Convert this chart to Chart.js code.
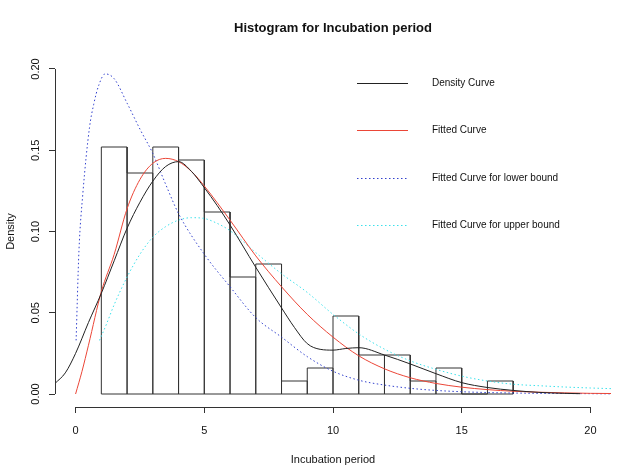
<!DOCTYPE html>
<html>
<head>
<meta charset="utf-8">
<title>Histogram for Incubation period</title>
<script src="https://cdn.jsdelivr.net/npm/chart.js@4"></script>
<style>
  body { margin: 0; background: #fff; }
  #wrap { width: 640px; height: 476px; }
</style>
</head>
<body>
<div id="wrap"><canvas id="myChart"></canvas></div>
<script>
// histogram bins (width 1) and their densities
const binStart = [1, 2, 3, 4, 5, 6, 7, 8, 9, 10, 11, 12, 13, 14, 15, 16];
const binDensity = [0.152, 0.136, 0.152, 0.144, 0.112, 0.072, 0.080, 0.008,
                    0.016, 0.048, 0.024, 0.024, 0.008, 0.016, 0, 0.008];

// kernel density curve
const densityX = [-0.8, -0.4, 0, 0.5, 1, 1.5, 2, 2.5, 3, 3.5, 4, 4.5, 5, 5.5, 6, 7, 8, 8.5, 9, 9.5, 10, 10.5, 11, 12, 13, 14, 15, 16, 17, 18, 19, 19.6];
const densityY = [0.0065, 0.013, 0.025, 0.044, 0.062, 0.082, 0.102, 0.118, 0.131, 0.140, 0.143, 0.137, 0.127, 0.116, 0.104, 0.078, 0.053, 0.041, 0.031, 0.0275, 0.027, 0.028, 0.0285, 0.024, 0.0185, 0.0125, 0.007, 0.004, 0.0022, 0.001, 0.0004, 0.0002];

// fitted curve
const fittedX = [0, 0.25, 0.5, 1, 1.5, 2, 2.5, 3, 3.5, 4, 4.5, 5, 6, 7, 8, 9, 10, 11, 12, 13, 14, 15, 16, 17, 18, 19, 20, 20.8];
const fittedY = [0, 0.014, 0.030, 0.063, 0.086, 0.114, 0.132, 0.142, 0.145, 0.143, 0.137, 0.128, 0.107, 0.085, 0.066, 0.049, 0.035, 0.0235, 0.0155, 0.010, 0.0065, 0.0042, 0.0027, 0.0017, 0.0011, 0.0007, 0.0004, 0.0003];

// fitted curve for lower bound
const lowerX = [0.02, 0.13, 0.28, 0.54, 0.7, 0.9, 1.15, 1.5, 2, 2.5, 3, 3.5, 4, 5, 6, 7, 8, 9, 10, 11, 12, 13, 14, 15, 16, 17, 18, 19, 20, 20.8];
const lowerY = [0.033, 0.088, 0.123, 0.164, 0.178, 0.190, 0.197, 0.194, 0.179, 0.163, 0.148, 0.129, 0.111, 0.086, 0.066, 0.047, 0.035, 0.023, 0.014, 0.0085, 0.0055, 0.0035, 0.0022, 0.0014, 0.0009, 0.0006, 0.0004, 0.0003, 0.0002, 0.0001];

// fitted curve for upper bound
const upperX = [0.93, 1.2, 1.5, 2, 2.5, 3, 3.5, 4, 4.5, 5, 5.5, 6, 7, 8, 9, 10, 11, 12, 13, 14, 15, 16, 17, 18, 19, 20, 20.8];
const upperY = [0.033, 0.043, 0.055, 0.072, 0.086, 0.0965, 0.103, 0.107, 0.1085, 0.108, 0.105, 0.1005, 0.087, 0.074, 0.0625, 0.049, 0.037, 0.0276, 0.0204, 0.0152, 0.011, 0.008, 0.006, 0.0051, 0.0043, 0.0037, 0.0033];

const curveNames = ['Density Curve', 'Fitted Curve', 'Fitted Curve for lower bound', 'Fitted Curve for upper bound'];
const xTicks = [0, 5, 10, 15, 20];
const yTicks = [0, 0.05, 0.10, 0.15, 0.20];

const FONT = '"Liberation Sans", Arial, Helvetica, sans-serif';
Chart.defaults.font.family = FONT;
Chart.defaults.color = '#111';

function pts(xs, ys) {
    return xs.map((x, i) => ({ x: x, y: ys[i] }));
}

// outline of the histogram rectangles, plus the baseline
var histOutline = [];
for (var i = 0; i < binStart.length; i++) {
    var lo = binStart[i], hi = binStart[i] + 1, h = binDensity[i];
    histOutline.push({ x: lo, y: 0 }, { x: lo, y: h }, { x: hi, y: h }, { x: hi, y: 0 });
}
histOutline.push({ x: binStart[0], y: 0 });

// R style axis lines: only from first to last tick
const rAxes = {
    id: 'rAxes',
    afterDraw(chart) {
        const { ctx, chartArea: a, scales: { x, y } } = chart;
        ctx.save();
        ctx.strokeStyle = '#333';
        ctx.lineWidth = 1;
        ctx.beginPath();
        var yb = Math.round(a.bottom - 0.5) + 0.5;
        ctx.moveTo(x.getPixelForValue(xTicks[0]), yb);
        ctx.lineTo(x.getPixelForValue(xTicks[xTicks.length - 1]), yb);
        var xl = Math.round(a.left - 0.5) + 0.5;
        ctx.moveTo(xl, y.getPixelForValue(yTicks[0]));
        ctx.lineTo(xl, y.getPixelForValue(yTicks[yTicks.length - 1]));
        ctx.stroke();
        ctx.restore();
    }
};

// legend drawn inside the plot, top right
const rLegend = {
    id: 'rLegend',
    afterDraw(chart) {
        const { ctx, chartArea: a } = chart;
        const rows = [27, 74, 122, 169];
        ctx.save();
        ctx.font = '10px ' + FONT;
        ctx.textBaseline = 'middle';
        ctx.textAlign = 'left';
        for (var k = 0; k < curveNames.length; k++) {
            var ds = chart.data.datasets[k];
            var yy = a.top + rows[k] + 0.5;
            ctx.strokeStyle = ds.borderColor;
            ctx.lineWidth = 1;
            ctx.setLineDash(ds.borderDash || []);
            ctx.beginPath();
            ctx.moveTo(a.left + 302, yy);
            ctx.lineTo(a.left + 353, yy);
            ctx.stroke();
            ctx.setLineDash([]);
            ctx.fillStyle = '#111';
            ctx.fillText(curveNames[k], a.left + 377, yy);
        }
        ctx.restore();
    }
};

var ctx = document.getElementById('myChart').getContext('2d');
var myChart = new Chart(ctx, {
    type: 'line',
    data: {
        datasets: [
            {
                label: curveNames[0],
                data: pts(densityX, densityY),
                borderColor: '#222',
                borderWidth: 1,
                pointRadius: 0,
                cubicInterpolationMode: 'monotone'
            },
            {
                label: curveNames[1],
                data: pts(fittedX, fittedY),
                borderColor: 'rgb(235,70,55)',
                borderWidth: 1,
                pointRadius: 0,
                cubicInterpolationMode: 'monotone'
            },
            {
                label: curveNames[2],
                data: pts(lowerX, lowerY),
                borderColor: 'rgb(50,65,205)',
                borderWidth: 1,
                borderDash: [1.5, 2.5],
                pointRadius: 0,
                cubicInterpolationMode: 'monotone'
            },
            {
                label: curveNames[3],
                data: pts(upperX, upperY),
                borderColor: 'rgb(60,225,235)',
                borderWidth: 1,
                borderDash: [1.5, 2.5],
                pointRadius: 0,
                cubicInterpolationMode: 'monotone'
            },
            {
                label: 'Histogram',
                data: histOutline,
                borderColor: '#333',
                borderWidth: 1,
                pointRadius: 0,
                tension: 0,
                fill: false
            }
        ]
    },
    options: {
        responsive: true,
        maintainAspectRatio: false,
        animation: false,
        devicePixelRatio: 1,
        layout: { padding: { left: 0, right: 29, top: 0, bottom: 0 } },
        plugins: {
            legend: { display: false },
            tooltip: { enabled: false },
            title: {
                display: true,
                text: 'Histogram for Incubation period',
                fullSize: false,
                color: '#111',
                font: { size: 13, weight: 'bold' },
                padding: { top: 20.2, bottom: 20.2 }
            }
        },
        scales: {
            x: {
                type: 'linear',
                min: -0.8,
                max: 20.8,
                afterBuildTicks: function (axis) {
                    axis.ticks = xTicks.map(v => ({ value: v }));
                },
                afterFit: function (axis) { axis.height = 69; },
                border: { display: false },
                grid: { drawOnChartArea: false, drawTicks: true, tickLength: 6, color: '#333' },
                ticks: {
                    padding: 11,
                    maxRotation: 0,
                    font: { size: 11 },
                    callback: v => String(v)
                },
                title: {
                    display: true,
                    text: 'Incubation period',
                    font: { size: 11 },
                    padding: { top: 0, bottom: 9.5 }
                }
            },
            y: {
                type: 'linear',
                min: -0.008,
                max: 0.208,
                afterBuildTicks: function (axis) {
                    axis.ticks = yTicks.map(v => ({ value: v }));
                },
                afterFit: function (axis) { axis.width = 55; },
                border: { display: false },
                grid: { drawOnChartArea: false, drawTicks: true, tickLength: 6, color: '#333' },
                ticks: {
                    padding: 2,
                    minRotation: 90,
                    maxRotation: 90,
                    crossAlign: 'center',
                    font: { size: 11 },
                    callback: v => v.toFixed(2)
                },
                title: {
                    display: true,
                    text: 'Density',
                    font: { size: 11 },
                    padding: { top: 4, bottom: 0 }
                }
            }
        }
    },
    plugins: [rAxes, rLegend]
});
</script>
</body>
</html>
